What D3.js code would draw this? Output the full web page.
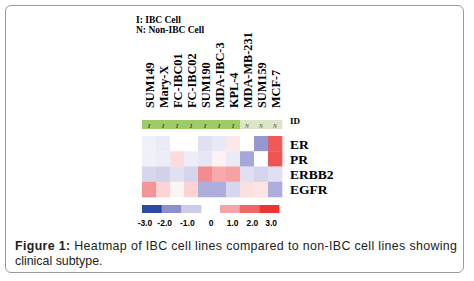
<!DOCTYPE html>
<html><head><meta charset="utf-8">
<script src="https://cdnjs.cloudflare.com/ajax/libs/d3/7.8.5/d3.min.js"></script>
<style>
html,body{margin:0;padding:0;background:#fff;}
#wrap{position:relative;width:474px;height:281px;}
#frame{position:absolute;left:5px;top:5px;width:459px;height:268px;border:1px solid #9a9a9a;border-radius:6px;box-sizing:border-box;}
svg{position:absolute;left:0;top:0;}
</style></head>
<body><div id="wrap"><div id="frame"></div><svg id="chart" width="474" height="281"></svg></div>
<script>
const cellLines = ["SUM149","Mary-X","FC-IBC01","FC-IBC02","SUM190","MDA-IBC-3","KPL-4","MDA-MB-231","SUM159","MCF-7"];
const cellType = ["I","I","I","I","I","I","I","N","N","N"];
const genes = ["ER","PR","ERBB2","EGFR"];
const valER    = [-0.3,-0.4, 0.0, 0.0,-0.6,-0.45, 0.25, 0.0,-1.85, 2.25];
const valPR    = [-0.3,-0.35,0.4,-0.35,-0.5, 0.15,-0.4,-1.6, 0.0, 2.35];
const valERBB2 = [-0.8,-0.9,-0.6,-0.85, 1.4, 0.95, 1.05,-0.6,-0.85,-0.6];
const valEGFR  = [ 1.25, 0.47, 0.12, 0.48,-1.5,-1.5,-0.8, 0.35, 0.3,-1.5];
const legendValues = [-3,-2,-1,1,2,3];
const legendTicks = ["-3.0","-2.0","-1.0","0","1.0","2.0","3.0"];
const legendTickPos = [-3.35,-2.35,-1.2,0,1.1,2.1,3.05];
const captionLine1 = "Heatmap of IBC cell lines compared to non-IBC cell lines showing";
const captionLine2 = "clinical subtype.";

const svg = d3.select("#chart");
const serif = "'Liberation Serif','Times New Roman',serif";
const sans = "Arial,'Liberation Sans',sans-serif";
const color = d3.scaleLinear().domain([-3,-2,-1,0,1,2,3])
  .range(["#2b4aa0","#8d8fcc","#ccccea","#ffffff","#f8a4a6","#ef6666","#ee3330"]);

const x = d3.scaleBand().domain(cellLines).range([142,282]);
const y = d3.scaleBand().domain(genes).range([136,197]);
const matrix = [valER,valPR,valERBB2,valEGFR];

// header notes
svg.append("text").attr("x",136).attr("y",23).attr("font-family",serif).attr("font-weight","bold").attr("font-size",9.5).text("I: IBC Cell");
svg.append("text").attr("x",136).attr("y",33).attr("font-family",serif).attr("font-weight","bold").attr("font-size",9.5).text("N: Non-IBC Cell");

// column labels
svg.selectAll("text.col").data(cellLines).enter().append("text")
  .attr("class","col")
  .attr("transform",d=>`translate(${x(d)+x.bandwidth()/2+4.5},108) rotate(-90)`)
  .attr("font-family",serif).attr("font-weight","bold").attr("font-size",12.3)
  .text(d=>d);

// type bar
svg.selectAll("rect.type").data(cellLines).enter().append("rect")
  .attr("x",d=>x(d)).attr("y",120).attr("width",x.bandwidth()+0.3).attr("height",9)
  .attr("fill",(d,i)=>cellType[i]==="I"?"#9ccb67":"#dde5c6");
svg.selectAll("text.type").data(cellLines).enter().append("text")
  .attr("x",d=>x(d)+x.bandwidth()/2).attr("y",127.5).attr("text-anchor","middle")
  .attr("font-family",serif).attr("font-style","italic").attr("font-weight","bold").attr("font-size",5.5)
  .attr("fill",(d,i)=>cellType[i]==="I"?"#333":"#666")
  .text((d,i)=>cellType[i]);
svg.append("text").attr("x",290).attr("y",124).attr("font-family",serif).attr("font-weight","bold").attr("font-size",9).text("ID");

// heatmap
genes.forEach((g,r)=>{
  svg.selectAll(null).data(matrix[r]).enter().append("rect")
    .attr("x",(v,i)=>x(cellLines[i])).attr("y",y(g))
    .attr("width",x.bandwidth()+0.3).attr("height",y.bandwidth()+0.3)
    .attr("fill",v=>color(v));
});
svg.selectAll("text.row").data(genes).enter().append("text")
  .attr("x",290).attr("y",d=>y(d)+y.bandwidth()/2+5)
  .attr("font-family",serif).attr("font-weight","bold").attr("font-size",13.5)
  .text(d=>d);

// legend
const lx = d3.scaleLinear().domain([-3.5,3.5]).range([142,280]);
const lw = 19.7;
svg.selectAll("rect.leg").data(legendValues).enter().append("rect")
  .attr("x",v=> v<0 ? 142+(v+3)*lw : 220+(v-1)*lw)
  .attr("y",205).attr("width",lw+0.3).attr("height",8)
  .attr("fill",v=>color(v));
svg.selectAll("text.leg").data(legendTicks).enter().append("text")
  .attr("x",(d,i)=>lx(legendTickPos[i])).attr("y",226).attr("text-anchor","middle")
  .attr("font-family",sans).attr("font-weight","bold").attr("font-size",8.5)
  .text(d=>d);

// caption
const c1 = svg.append("text").attr("x",15).attr("y",250)
  .attr("font-family",sans).attr("font-size",12.4).attr("fill","#222")
  .attr("textLength",442).attr("lengthAdjust","spacing");
c1.append("tspan").attr("font-weight","bold").text("Figure 1: ");
c1.append("tspan").text(captionLine1);
svg.append("text").attr("x",15).attr("y",264.5)
  .attr("font-family",sans).attr("font-size",12.4).attr("fill","#222")
  .text(captionLine2);
</script></body></html>
